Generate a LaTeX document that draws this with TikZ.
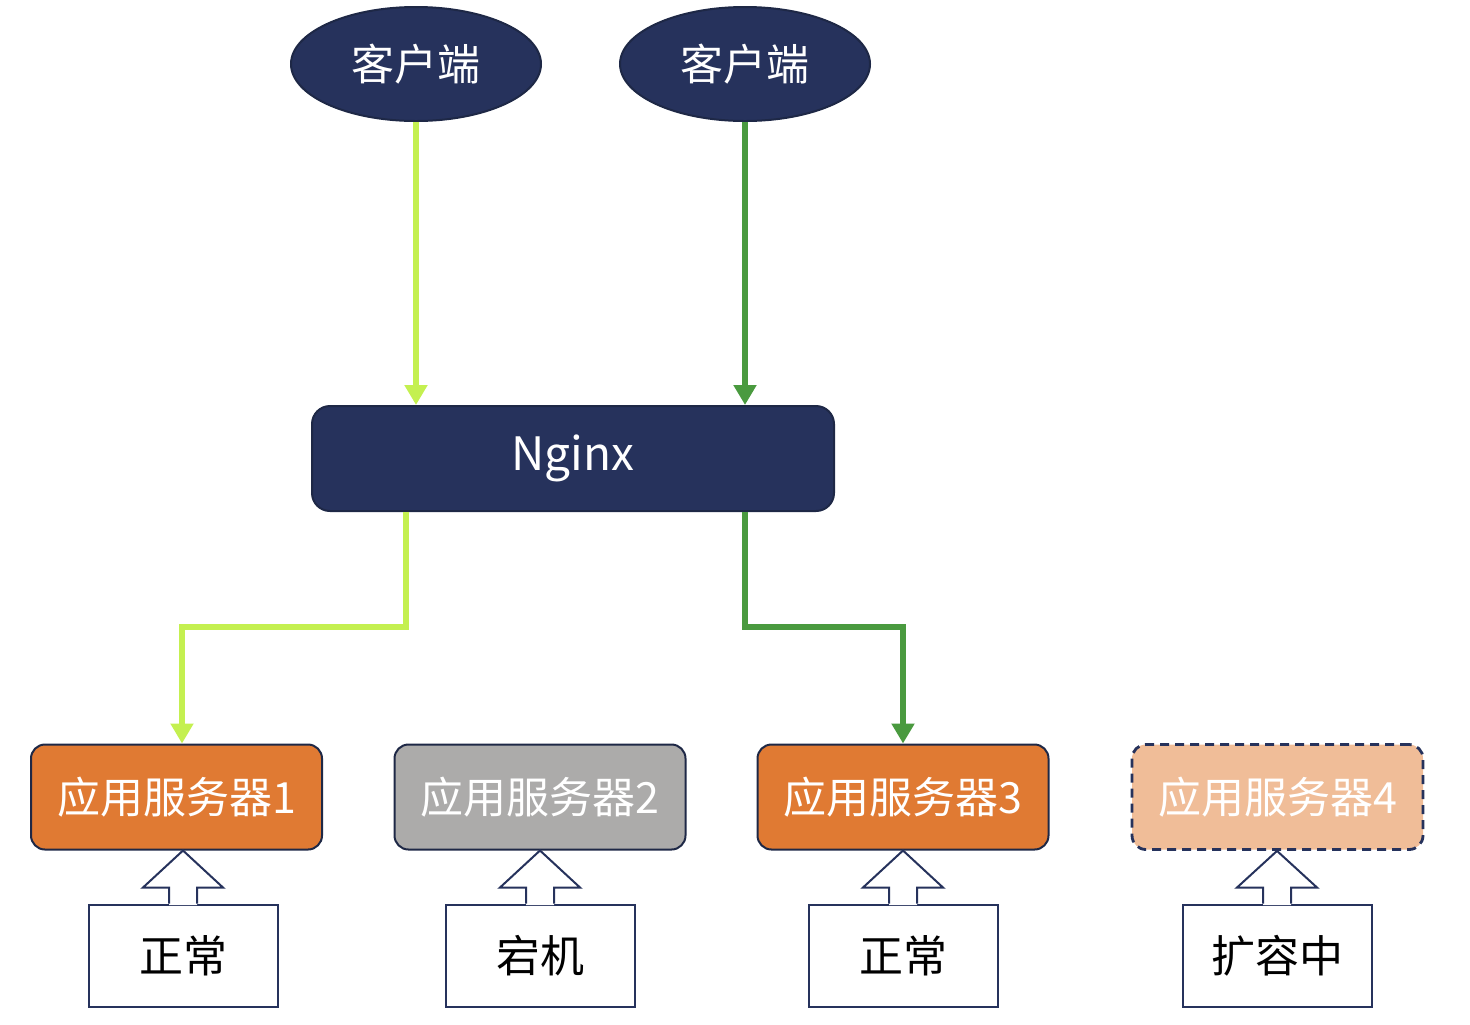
\documentclass[tikz,border=0pt]{standalone}
\usepackage{fontspec}
\setmainfont{Noto Sans CJK SC}
\usetikzlibrary{shapes.geometric,arrows.meta,calc}
\definecolor{navy}{RGB}{38,50,92}
\definecolor{navyline}{RGB}{30,40,70}
\definecolor{lgreen}{RGB}{196,240,80}
\definecolor{dgreen}{RGB}{74,154,63}
\definecolor{orng}{RGB}{224,122,51}
\definecolor{grayb}{RGB}{172,171,170}
\definecolor{lorng}{RGB}{240,189,152}
\tikzset{
  client/.style={ellipse,fill=navy,draw=navyline,line width=1pt,minimum width=125pt,minimum height=57pt,inner sep=0pt,text=white,font=\fontsize{21.5pt}{24pt}\selectfont},
  proxy/.style={rectangle,rounded corners=9pt,fill=navy,draw=navyline,line width=1pt,minimum width=261pt,minimum height=52.5pt,text=white,font=\fontsize{23pt}{26pt}\selectfont},
  server/.style={rectangle,rounded corners=7pt,draw=navyline,line width=1pt,minimum width=145.5pt,minimum height=52.5pt,inner sep=0pt,text=white,font=\fontsize{21.5pt}{24pt}\selectfont},
  statebox/.style={rectangle,draw=navy,line width=1pt,fill=white,minimum width=94.5pt,minimum height=51pt,inner sep=0pt,text=black,font=\fontsize{22pt}{24pt}\selectfont},
  flow/.style={line width=3pt,-{Triangle[length=10pt,width=11pt]}},
}
\newcommand{\blockarrow}[2]{%
  \fill[white] ($(#1.north)+(-14,1.5)$) -- ($(#1.north)+(-14,-16)$) -- ($(#1.north)+(-40,-16)$) -- (#2.south -| #1.north) -- ($(#1.north)+(40,-16)$) -- ($(#1.north)+(14,-16)$) -- ($(#1.north)+(14,1.5)$) -- cycle;
  \draw[navy,line width=1pt,line join=miter] ($(#1.north)+(-14,0)$) -- ($(#1.north)+(-14,-16)$) -- ($(#1.north)+(-40,-16)$) -- (#2.south -| #1.north) -- ($(#1.north)+(40,-16)$) -- ($(#1.north)+(14,-16)$) -- ($(#1.north)+(14,0)$);
}
\begin{document}
\begin{tikzpicture}[x=0.5pt,y=-0.5pt]
\useasboundingbox (0,0) rectangle (1470,1024);
\node[client] (c1) at (416,64) {客户端};
\node[client] (c2) at (745,64) {客户端};
\node[proxy] (n) at (573,458.5) {Nginx};
\node[server,fill=orng] (s1) at (176.5,797) {应用服务器1};
\node[server,fill=grayb] (s2) at (540,797) {应用服务器2};
\node[server,fill=orng] (s3) at (903,797) {应用服务器3};
\node[server,fill=lorng,draw=navy,line width=1.4pt,dash pattern=on 4.5pt off 3pt] (s4) at (1277.5,797) {应用服务器4};
\node[statebox] (b1) at (183,955.5) {正常};
\node[statebox] (b2) at (540,955.5) {宕机};
\node[statebox] (b3) at (903,955.5) {正常};
\node[statebox] (b4) at (1277,955.5) {扩容中};
\blockarrow{b1}{s1}
\blockarrow{b2}{s2}
\blockarrow{b3}{s3}
\blockarrow{b4}{s4}
\draw[flow,lgreen] (c1.south) -- (c1.south |- n.north);
\draw[flow,dgreen] (c2.south) -- (c2.south |- n.north);
\coordinate (o1) at (406,511);
\coordinate (t1) at (182,745);
\coordinate (o3) at (745,511);
\coordinate (t3) at (903,745);
\draw[flow,lgreen] (n.south -| o1) -- (406,627) -- (182,627) -- (s1.north -| t1);
\draw[flow,dgreen] (n.south -| o3) -- (745,627) -- (903,627) -- (s3.north -| t3);
\end{tikzpicture}
\end{document}
